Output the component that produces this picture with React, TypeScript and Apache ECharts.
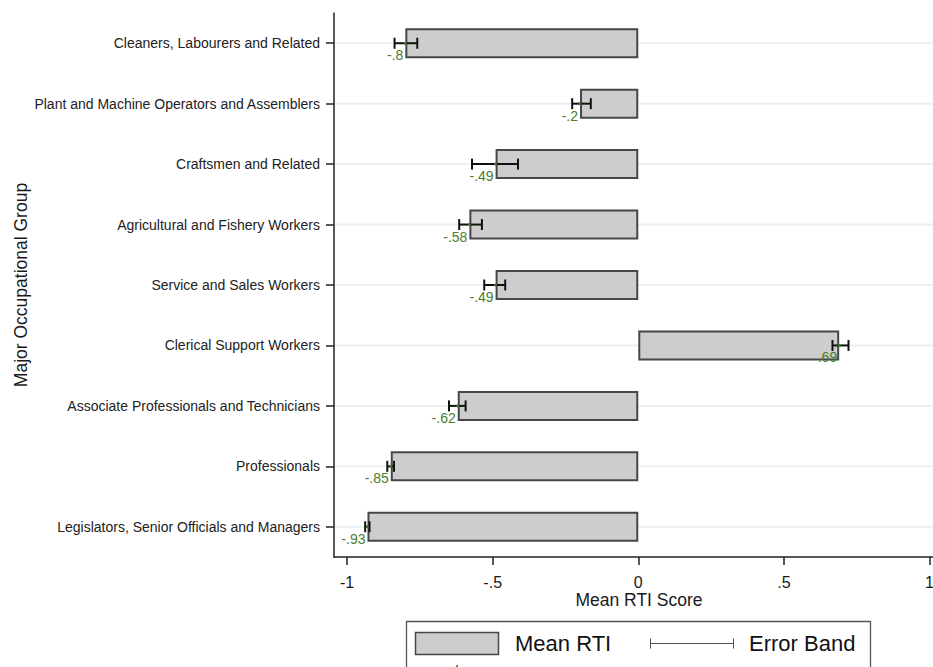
import React, { useEffect, useRef } from "react";
import * as echarts from "echarts";

// Occupational groups, top to bottom
const categories = [
  "Cleaners, Labourers and Related",
  "Plant and Machine Operators and Assemblers",
  "Craftsmen and Related",
  "Agricultural and Fishery Workers",
  "Service and Sales Workers",
  "Clerical Support Workers",
  "Associate Professionals and Technicians",
  "Professionals",
  "Legislators, Senior Officials and Managers",
];

// Mean RTI score per group
const meanRTI = [-0.8, -0.2, -0.49, -0.58, -0.49, 0.69, -0.62, -0.85, -0.93];

// Lower / upper ends of the error band
const bandLow = [-0.837, -0.227, -0.571, -0.615, -0.529, 0.667, -0.65, -0.862, -0.938];
const bandHigh = [-0.759, -0.163, -0.413, -0.537, -0.457, 0.722, -0.593, -0.839, -0.923];

const xTicks = [-1, -0.5, 0, 0.5, 1];

const FONT = '"Liberation Sans", Arial, Helvetica, sans-serif';
const BAR_FILL = "#cdcdcd";
const BAR_EDGE = "#474747";
const LABEL_GREEN = "#4a7d2c";

// Stata-style number format: drop the leading zero
const fmt = (v: number) => String(v).replace(/^(-?)0\./, "$1.");

export default function App() {
  const ref = useRef<HTMLDivElement>(null);

  useEffect(() => {
    if (!ref.current) return;
    const chart = echarts.init(ref.current, null, { renderer: "svg" });

    const bandData = categories.map((_, i) => [meanRTI[i], i, bandLow[i], bandHigh[i]]);
    const gridData = categories.map((_, i) => [0, i]);

    chart.setOption({
      animation: false,
      backgroundColor: "#ffffff",
      textStyle: { fontFamily: FONT },
      grid: {
        left: 334,
        top: 13,
        width: 610,
        height: 544,
        containLabel: false,
        outerBoundsMode: "none",
      },
      xAxis: {
        type: "value",
        min: -1.045,
        max: 1.05,
        name: "Mean RTI Score",
        nameLocation: "middle",
        nameGap: 34,
        nameMoveOverlap: false,
        nameTextStyle: { fontSize: 17.5, color: "#1a1a1a", fontFamily: FONT },
        axisLine: { show: true, onZero: false, lineStyle: { color: "#222", width: 1.5 } },
        axisTick: {
          show: true,
          length: 8,
          customValues: xTicks,
          lineStyle: { color: "#222", width: 1.5 },
        },
        axisLabel: {
          customValues: xTicks,
          formatter: (v: number) => fmt(v),
          fontSize: 16,
          color: "#1a1a1a",
          margin: 17,
          fontFamily: FONT,
        },
        splitLine: { show: false },
      },
      yAxis: {
        type: "category",
        inverse: true,
        data: categories,
        name: "Major Occupational Group",
        nameLocation: "middle",
        nameGap: 304,
        nameMoveOverlap: false,
        nameRotate: 90,
        nameTextStyle: { fontSize: 17.5, color: "#1a1a1a", fontFamily: FONT },
        axisLine: { show: true, onZero: false, lineStyle: { color: "#222", width: 1.5 } },
        axisTick: {
          show: true,
          length: 8,
          alignWithLabel: true,
          lineStyle: { color: "#222", width: 1.5 },
        },
        axisLabel: { fontSize: 14, color: "#222", margin: 14, fontFamily: FONT },
        splitLine: { show: false },
      },
      series: [
        {
          // light horizontal guide at each category
          type: "custom",
          z: 1,
          silent: true,
          data: gridData,
          encode: { x: 0, y: 1 },
          renderItem: (params: any, api: any) => {
            const cs = params.coordSys;
            const y = api.coord([0, api.value(1)])[1];
            return {
              type: "line",
              shape: { x1: cs.x + 1, y1: y, x2: cs.x + cs.width, y2: y },
              style: { stroke: "#e8f0f3", lineWidth: 2 },
            };
          },
        },
        {
          name: "Mean RTI",
          type: "bar",
          z: 2,
          barWidth: 30,
          data: meanRTI,
          itemStyle: { color: BAR_FILL, borderColor: BAR_EDGE, borderWidth: 2 },
        },
        {
          name: "Error Band",
          type: "custom",
          z: 3,
          data: bandData,
          encode: { x: 0, y: 1 },
          renderItem: (params: any, api: any) => {
            const mean = api.value(0);
            const idx = api.value(1);
            const lo = api.value(2);
            const hi = api.value(3);
            const [mx, cy] = api.coord([mean, idx]);
            const lx = api.coord([lo, idx])[0];
            const hx = api.coord([hi, idx])[0];
            const cap = 5.5;
            const ls = { stroke: "#111", lineWidth: 2 };
            return {
              type: "group",
              children: [
                { type: "line", shape: { x1: lx, y1: cy, x2: hx, y2: cy }, style: ls },
                { type: "line", shape: { x1: lx, y1: cy - cap, x2: lx, y2: cy + cap }, style: ls },
                { type: "line", shape: { x1: hx, y1: cy - cap, x2: hx, y2: cy + cap }, style: ls },
                { type: "circle", shape: { cx: mx, cy, r: 1.5 }, style: { fill: "#3d7a2a" } },
                {
                  type: "text",
                  x: mx - 2,
                  y: cy + 12,
                  style: {
                    text: fmt(mean),
                    align: "right",
                    verticalAlign: "middle",
                    fill: LABEL_GREEN,
                    font: `14px ${FONT}`,
                  },
                },
              ],
            };
          },
        },
      ],
      graphic: [
        {
          type: "rect",
          shape: { x: 406.5, y: 621.5, width: 464, height: 60 },
          style: { fill: "#ffffff", stroke: "#555", lineWidth: 1.3 },
        },
        {
          type: "rect",
          shape: { x: 415.5, y: 632.5, width: 83, height: 22 },
          style: { fill: BAR_FILL, stroke: BAR_EDGE, lineWidth: 1.5 },
        },
        {
          type: "text",
          x: 515,
          y: 643.5,
          style: {
            text: "Mean RTI",
            font: `22px ${FONT}`,
            fill: "#111",
            verticalAlign: "middle",
            align: "left",
          },
        },
        {
          type: "line",
          shape: { x1: 650, y1: 643.5, x2: 734, y2: 643.5 },
          style: { stroke: "#555", lineWidth: 1 },
        },
        {
          type: "line",
          shape: { x1: 650.5, y1: 638.5, x2: 650.5, y2: 648.5 },
          style: { stroke: "#555", lineWidth: 1 },
        },
        {
          type: "line",
          shape: { x1: 733.5, y1: 638.5, x2: 733.5, y2: 648.5 },
          style: { stroke: "#555", lineWidth: 1 },
        },
        {
          type: "text",
          x: 749,
          y: 643.5,
          style: {
            text: "Error Band",
            font: `22px ${FONT}`,
            fill: "#111",
            verticalAlign: "middle",
            align: "left",
          },
        },
        {
          type: "circle",
          shape: { cx: 457, cy: 666, r: 1 },
          style: { fill: "#3d7a2a" },
        },
      ],
    });

    return () => chart.dispose();
  }, []);

  return (
    <div
      ref={ref}
      style={{ position: "fixed", left: 0, top: 0, width: 933, height: 667, background: "#fff" }}
    />
  );
}
